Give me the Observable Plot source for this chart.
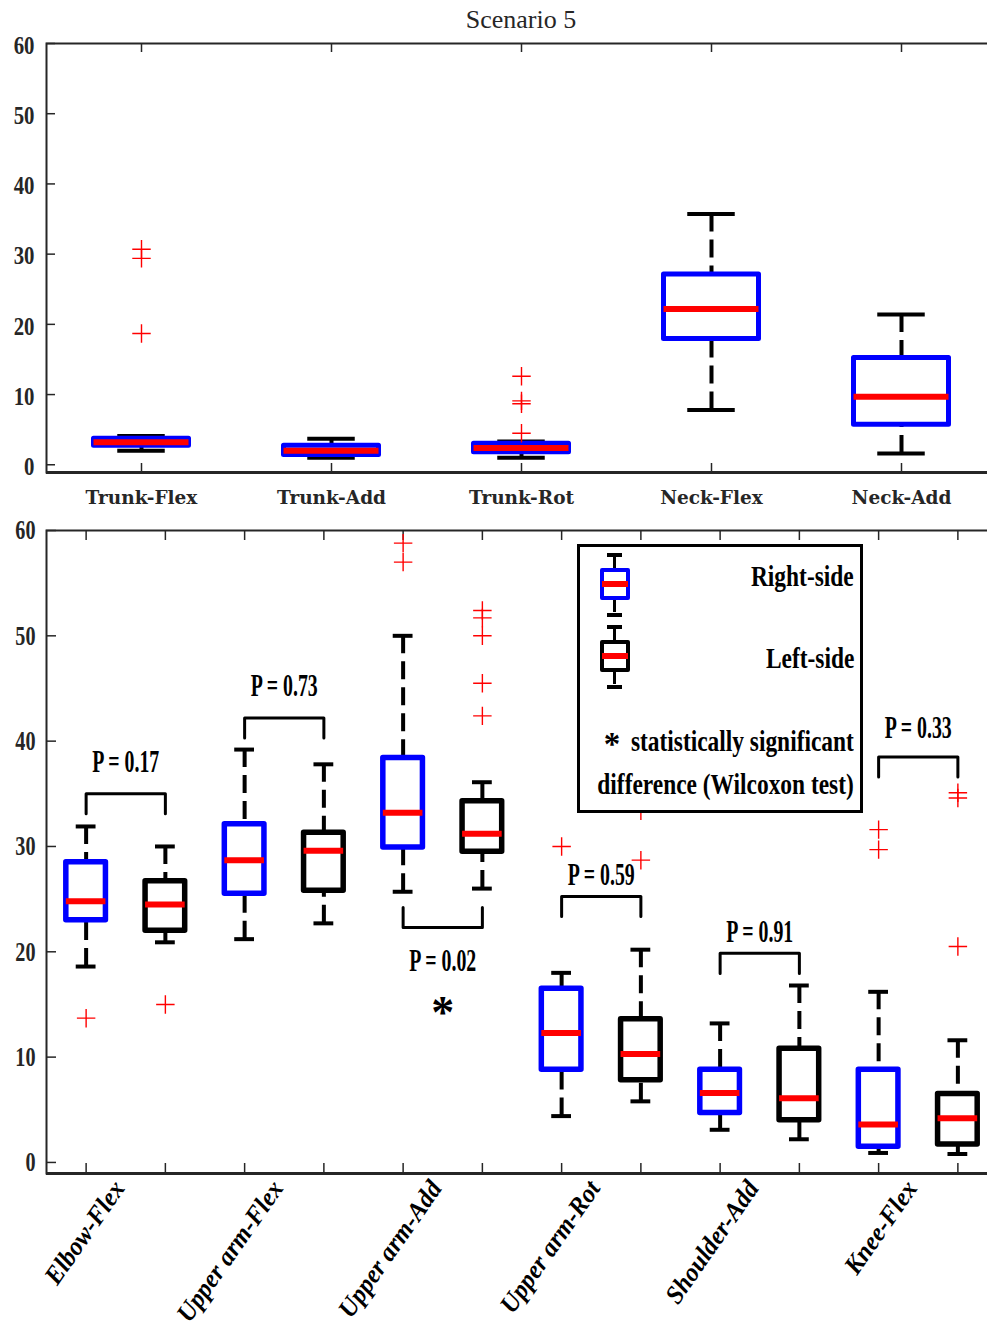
<!DOCTYPE html>
<html>
<head>
<meta charset="utf-8">
<script src="https://cdn.jsdelivr.net/npm/d3@7"></script>
<script src="https://cdn.jsdelivr.net/npm/@observablehq/plot@0.6"></script>
<style>
  html, body { margin: 0; padding: 0; background: #fff; }
  #page { position: relative; width: 987px; height: 1328px; overflow: hidden; background: #fff; }
  #page > svg { position: absolute; left: 0; overflow: hidden; }
  #title { position: absolute; left: 0; width: 1042px; top: 4px; text-align: center;
           font: 26px/32px "Liberation Serif", "Times New Roman", serif; color: #262626; }
  #legend { position: absolute; box-sizing: border-box; left: 577px; top: 544px; width: 286px; height: 269px;
            border: 3px solid #000; background: #fff; }
  #legend .lbl { position: absolute; right: 6px; white-space: nowrap; height: 34px;
                 font: bold 30px/34px "Liberation Serif", "Times New Roman", serif; color: #000;
                 transform: scaleX(0.78); transform-origin: right center; }
  #legend .star { position: absolute; left: 22px; width: 20px; height: 26px; text-align: center;
                  font: bold 33px/26px "Liberation Serif", "Times New Roman", serif; color: #000; }
  #legend .part { position: absolute; box-sizing: border-box; }
</style>
</head>
<body>
<div id="page">
  <div id="title">Scenario 5</div>
</div>
<script>
// ---- Upper panel: trunk and neck angles (right side only) ----
const topCategories = ["Trunk-Flex", "Trunk-Add", "Trunk-Rot", "Neck-Flex", "Neck-Add"];
const topLowerWhisker = [2.0, 1.0, 1.0, 7.8, 1.6];
const topQ1 = [2.7, 1.4, 1.8, 17.9, 5.7];
const topMedian = [3.2, 2.0, 2.4, 22.2, 9.7];
const topQ3 = [3.7, 2.7, 3.0, 27.1, 15.2];
const topUpperWhisker = [4.1, 3.7, 3.3, 35.7, 21.4];
const topOutliers = [[18.7, 29.4, 30.7], [], [4.5, 8.7, 9.1, 12.6], [], []];

// ---- Lower panel: upper / lower limb angles, right vs left side ----
const bottomCategories = ["Elbow-Flex", "Upper arm-Flex", "Upper arm-Add", "Upper arm-Rot", "Shoulder-Add", "Knee-Flex"];
const rightLowerWhisker = [18.6, 21.2, 25.7, 4.4, 3.1, 0.9];
const rightQ1 = [23.0, 25.5, 29.9, 8.8, 4.7, 1.5];
const rightMedian = [24.8, 28.7, 33.2, 12.3, 6.6, 3.6];
const rightQ3 = [28.5, 32.1, 38.4, 16.5, 8.8, 8.8];
const rightUpperWhisker = [31.9, 39.2, 50.0, 18.0, 13.2, 16.2];
const rightOutliers = [[13.7], [], [57.0, 58.8], [30.0], [], [29.7, 31.6]];
const leftLowerWhisker = [20.9, 22.7, 26.0, 5.8, 2.2, 0.8];
const leftQ1 = [22.0, 25.8, 29.5, 7.8, 4.0, 1.7];
const leftMedian = [24.5, 29.6, 31.2, 10.3, 6.1, 4.2];
const leftQ3 = [26.7, 31.3, 34.3, 13.6, 10.8, 6.5];
const leftUpperWhisker = [30.0, 37.8, 36.1, 20.2, 16.8, 11.6];
const leftOutliers = [[15.0], [], [42.4, 45.5, 50.0, 51.7, 52.4], [28.7, 33.4], [], [20.5, 34.6, 35.1]];
const pValues = [0.17, 0.73, 0.02, 0.59, 0.91, 0.33];
const significant = [false, false, true, false, false, false];

const yTicks = [0, 10, 20, 30, 40, 50, 60];
const legendEntries = [
  {label: "Right-side", color: "#0000ff"},
  {label: "Left-side", color: "#000000"}
];
const legendNote = ["statistically significant", "difference (Wilcoxon test)"];

// ---- shared styling ----
const W = 987;
const serif = "'Liberation Serif','Times New Roman',serif";
const axisColor = "#262626";
const whiskerDash = "18,8";

function rowsFrom(pos, low, q1, med, q3, high) {
  return pos.map((p, i) => ({pos: p, low: low[i], q1: q1[i], med: med[i], q3: q3[i], high: high[i]}));
}

// Box-and-whisker marks for one group of boxes
function boxMarks(rows, outliers, color, boxW, boxStroke) {
  const half = boxW / 2, cap = boxW / 4;
  return [
    Plot.ruleX(rows, {x: "pos", y1: "high", y2: "q3", stroke: "#000", strokeWidth: 4, strokeDasharray: whiskerDash}),
    Plot.ruleX(rows, {x: "pos", y1: "low", y2: "q1", stroke: "#000", strokeWidth: 4, strokeDasharray: whiskerDash}),
    Plot.ruleY(rows, {y: "high", x1: d => d.pos - cap, x2: d => d.pos + cap, stroke: "#000", strokeWidth: 4}),
    Plot.ruleY(rows, {y: "low", x1: d => d.pos - cap, x2: d => d.pos + cap, stroke: "#000", strokeWidth: 4}),
    Plot.rect(rows, {x1: d => d.pos - half, x2: d => d.pos + half, y1: "q1", y2: "q3",
                     fill: "none", stroke: color, strokeWidth: boxStroke, strokeLinejoin: "round"}),
    Plot.ruleY(rows, {y: "med", x1: d => d.pos - half, x2: d => d.pos + half, stroke: "#ff0000", strokeWidth: 6}),
    Plot.dot(outliers, {x: "pos", y: "value", symbol: "plus", r: 6, stroke: "#ff0000", strokeWidth: 1.4})
  ];
}

// Narrow the glyphs of selected text marks around their anchor point
function condenseText(svg, factors) {
  svg.querySelectorAll("g[aria-description]").forEach(g => {
    const k = factors[g.getAttribute("aria-description")];
    if (!k) return;
    g.querySelectorAll("text").forEach(t => {
      let tr = t.getAttribute("transform");
      if (!tr) {
        const x = +t.getAttribute("x") || 0, y = +t.getAttribute("y") || 0;
        t.removeAttribute("x"); t.removeAttribute("y");
        tr = `translate(${x},${y})`;
      }
      t.setAttribute("transform", `${tr} scale(${k},1)`);
    });
  });
}

function frameMarks(yDomainMin, positions, frameW, frameH, tickLen) {
  return [
    Plot.frame({stroke: axisColor, strokeWidth: 2}),
    Plot.ruleY([yDomainMin], {stroke: axisColor, strokeWidth: 3}),
    Plot.tickY(yTicks, {y: d => d, insetRight: frameW - tickLen, stroke: axisColor, strokeWidth: 1.5}),
    Plot.tickY(yTicks, {y: d => d, insetLeft: frameW - tickLen, stroke: axisColor, strokeWidth: 1.5}),
    Plot.tickX(positions, {x: d => d, insetTop: frameH - tickLen, stroke: axisColor, strokeWidth: 1.5}),
    Plot.tickX(positions, {x: d => d, insetBottom: frameH - tickLen, stroke: axisColor, strokeWidth: 1.5})
  ];
}

const page = document.getElementById("page");

// ================= Upper panel =================
{
  const H = 520, mL = 46, mR = -9, mT = 43, mB = 48;
  const yMin = -1.1;
  const pos = topCategories.map((d, i) => i + 1);
  const rows = rowsFrom(pos, topLowerWhisker, topQ1, topMedian, topQ3, topUpperWhisker);
  const outl = topOutliers.flatMap((vals, i) => vals.map(v => ({pos: i + 1, value: v})));
  const svg = Plot.plot({
    width: W, height: H,
    marginLeft: mL, marginRight: mR, marginTop: mT, marginBottom: mB,
    x: {domain: [0.5, topCategories.length + 0.5], axis: null},
    y: {domain: [yMin, 60], axis: null},
    style: {background: "transparent", overflow: "hidden"},
    marks: [
      ...frameMarks(yMin, pos, W - mR - mL, H - mB - mT, 9),
      ...boxMarks(rows, outl, "#0000ff", 0.5, 5),
      Plot.text(yTicks, {y: d => d, frameAnchor: "left", text: d => String(d), textAnchor: "end", dx: -12, dy: 2,
                         fontFamily: serif, fontWeight: "bold", fontSize: 26, fill: axisColor,
                         ariaDescription: "upper y labels"}),
      Plot.text(topCategories, {x: (d, i) => i + 1, frameAnchor: "bottom", dy: 31, text: d => d,
                                fontFamily: "'DejaVu Serif',serif", fontWeight: "bold", fontSize: 18.5,
                                fill: "#262626"})
    ]
  });
  condenseText(svg, {"upper y labels": 0.8});
  svg.style.top = "0px";
  page.appendChild(svg);
}

// ================= Lower panel =================
{
  const top = 500, H = 828, mL = 46, mR = -10, mT = 30, mB = 155;
  const yMin = -1.05;
  const rightPos = bottomCategories.map((d, i) => 2 * i + 1);
  const leftPos = bottomCategories.map((d, i) => 2 * i + 2);
  const rightRows = rowsFrom(rightPos, rightLowerWhisker, rightQ1, rightMedian, rightQ3, rightUpperWhisker);
  const leftRows = rowsFrom(leftPos, leftLowerWhisker, leftQ1, leftMedian, leftQ3, leftUpperWhisker);
  const rightOut = rightOutliers.flatMap((vals, i) => vals.map(v => ({pos: 2 * i + 1, value: v})));
  const leftOut = leftOutliers.flatMap((vals, i) => vals.map(v => ({pos: 2 * i + 2, value: v})));

  // comparison brackets: level of the bracket bar and of its P label, direction of the legs
  const bracketLevel = [35.0, 42.2, 22.3, 25.25, 19.85, 38.5];
  const labelLevel = [38.0, 45.2, 19.1, 27.3, 21.9, 41.2];
  const legDir = [-1, -1, 1, -1, -1, -1];
  const legLen = 1.9;
  const bracketPts = pValues.flatMap((p, i) => {
    const a = 2 * i + 1, b = 2 * i + 2, yb = bracketLevel[i], yl = yb + legDir[i] * legLen;
    return [{k: i, x: a, y: yl}, {k: i, x: a, y: yb}, {k: i, x: b, y: yb}, {k: i, x: b, y: yl}];
  });
  const pLabels = pValues.map((p, i) => ({x: 2 * i + 1.5, y: labelLevel[i], text: `P = ${p.toFixed(2)}`}));
  const stars = pValues.map((p, i) => ({x: 2 * i + 1.5, y: labelLevel[i] - 4.1, sig: significant[i]})).filter(d => d.sig);
  const positions = [...rightPos, ...leftPos].sort((a, b) => a - b);

  const svg = Plot.plot({
    width: W, height: H,
    marginLeft: mL, marginRight: mR, marginTop: mT, marginBottom: mB,
    x: {domain: [0.5, positions.length + 0.5], axis: null},
    y: {domain: [yMin, 60], axis: null},
    style: {background: "transparent", overflow: "hidden"},
    marks: [
      ...frameMarks(yMin, positions, W - mR - mL, H - mB - mT, 10),
      ...boxMarks(rightRows, rightOut, "#0000ff", 0.5, 5.5),
      ...boxMarks(leftRows, leftOut, "#000000", 0.5, 5.5),
      Plot.line(bracketPts, {x: "x", y: "y", z: "k", stroke: "#000", strokeWidth: 3, strokeLinejoin: "round"}),
      Plot.text(pLabels, {x: "x", y: "y", text: "text", fontFamily: serif, fontWeight: "bold", fontSize: 31,
                          fill: "#000", ariaDescription: "p values"}),
      Plot.text(stars, {x: "x", y: "y", text: () => "*", fontFamily: serif, fontWeight: "bold", fontSize: 46,
                        dy: 9, fill: "#000"}),
      Plot.text(yTicks, {y: d => d, frameAnchor: "left", text: d => String(d), textAnchor: "end", dx: -11,
                         fontFamily: serif, fontWeight: "bold", fontSize: 28, fill: axisColor,
                         ariaDescription: "lower y labels"}),
      Plot.text(bottomCategories, {x: (d, i) => 2 * i + 1.5, frameAnchor: "bottom", dy: 15, rotate: -55,
                                   textAnchor: "end", text: d => d, fontFamily: serif, fontWeight: "bold",
                                   fontStyle: "italic", fontSize: 26, fill: "#000",
                                   ariaDescription: "limb labels"})
    ]
  });
  condenseText(svg, {"p values": 0.64, "lower y labels": 0.72, "limb labels": 0.95});
  svg.style.top = top + "px";
  page.appendChild(svg);
}

// ================= Legend =================
{
  const legend = document.createElement("div");
  legend.id = "legend";
  const part = (css) => {
    const d = document.createElement("div");
    d.className = "part";
    Object.assign(d.style, css);
    legend.appendChild(d);
  };
  legendEntries.forEach((e, i) => {
    const o = i * 72;
    // whisker stems
    part({left: "33px", top: (9 + o) + "px", width: "3px", height: "56px", background: "#000"});
    // caps
    part({left: "27px", top: (6 + o) + "px", width: "15px", height: "4px", background: "#000"});
    part({left: "27px", top: (66 + o) + "px", width: "15px", height: "4px", background: "#000"});
    // box
    part({left: "20px", top: (21 + o) + "px", width: "30px", height: "32px", border: `4px solid ${e.color}`,
          borderRadius: "2px", background: "#fff"});
    // median
    part({left: "22px", top: (34 + o) + "px", width: "26px", height: "6px", background: "#ff0000"});
    const lbl = document.createElement("div");
    lbl.className = "lbl";
    lbl.style.top = (12 + o + i * 10) + "px";
    lbl.textContent = e.label;
    legend.appendChild(lbl);
  });
  // significance marker in front of the note
  const star = document.createElement("div");
  star.className = "star";
  star.style.top = "184px";
  star.textContent = "*";
  legend.appendChild(star);
  legendNote.forEach((t, i) => {
    const lbl = document.createElement("div");
    lbl.className = "lbl";
    lbl.style.top = (177 + i * 43) + "px";
    lbl.textContent = t;
    legend.appendChild(lbl);
  });
  page.appendChild(legend);
}
</script>
</body>
</html>
